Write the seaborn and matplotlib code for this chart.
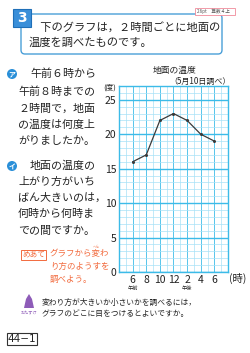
import matplotlib
matplotlib.use("Agg")
import matplotlib.pyplot as plt
from matplotlib.patches import FancyBboxPatch, Rectangle, Circle, Polygon
import seaborn as sns
import pandas as pd

# ---- data ----
hours = [6, 8, 10, 12, 14, 16, 18]
temps = [16, 17, 22, 23, 22, 20, 19]
x_tick_labels = ["6", "8", "10", "12", "2", "4", "6"]
y_ticks = [0, 5, 10, 15, 20, 25]

sns.set_style("white")
plt.rcParams['font.family'] = ['Noto Sans CJK JP', 'DejaVu Sans']

W, H = 250, 353
fig = plt.figure(figsize=(W / 100, H / 100), dpi=100)

# overlay in pixel coordinates
ov = fig.add_axes([0, 0, 1, 1], zorder=0)
ov.set_xlim(0, W)
ov.set_ylim(H, 0)
ov.axis("off")

GRID_MINOR = "#a8e2f7"
GRID_MAJOR = "#3cbbe8"
BLUE = "#2a8fd8"
ORANGE = "#f26a3d"
PURPLE = "#8e5cb8"
TXT = "#222222"

# ---- main chart ----
ax = fig.add_axes([119 / W, 1 - 272 / H, (228 - 119) / W, (272 - 86) / H], zorder=2)
ax.patch.set_alpha(0)
df = pd.DataFrame({"hour": hours, "temp": temps})
for v in range(4, 21):
    ax.axvline(v, color=GRID_MAJOR if v % 2 == 0 else GRID_MINOR, lw=0.6 if v % 2 == 0 else 0.5, zorder=0)
for v in range(0, 28):
    major = v % 5 == 0
    ax.axhline(v, color=GRID_MAJOR if major else GRID_MINOR, lw=1.0 if major else 0.5, zorder=0)
sns.lineplot(data=df, x="hour", y="temp", ax=ax, color="#3a3a3a", lw=0.9,
             marker="o", markersize=2.2, markeredgewidth=0, zorder=3)
ax.set_xlim(4, 20)
ax.set_ylim(0, 27)
ax.set_xticks(hours)
ax.set_xticklabels(x_tick_labels, fontsize=7.5, color=TXT)
ax.set_yticks(y_ticks)
ax.set_yticklabels([str(t) for t in y_ticks], fontsize=7.5, color=TXT)
ax.tick_params(length=0, pad=2)
ax.set_xlabel("")
ax.set_ylabel("")
for s in ax.spines.values():
    s.set_color(GRID_MAJOR)
    s.set_linewidth(1.0)

ov.text(229, 278, "(時)", fontsize=7.5, ha="left", va="center", color=TXT)
ov.text(133, 289, "午前", fontsize=3.8, ha="center", va="center", color=TXT)
ov.text(187, 289, "午後", fontsize=3.8, ha="center", va="center", color=TXT)
ov.text(110, 88, "(度)", fontsize=5.5, ha="center", va="center", color=TXT)
ov.text(175, 70, "地面の温度", fontsize=6.3, ha="center", va="center", color=TXT)
ov.text(200, 81, "（5月10日調べ）", fontsize=5.8, ha="center", va="center", color=TXT)

# ---- header ----
ov.add_patch(FancyBboxPatch((21, 14), 201, 40, boxstyle="round,pad=0,rounding_size=4",
                            fc="white", ec="#4a9fd8", lw=1.0))
ov.add_patch(Rectangle((13, 9), 18, 18, fc="#3a8fd9", ec="#1f6fb8", lw=0.8))
ov.text(22, 18.5, "3", fontsize=10, fontweight="bold", color="white", ha="center", va="center",
        family="DejaVu Sans")
ov.text(29, 27, "　下のグラフは，２時間ごとに地面の", fontsize=8.1, ha="left", va="center", color=TXT)
ov.text(29, 43, "温度を調べたものです。", fontsize=8.1, ha="left", va="center", color=TXT)
ov.add_patch(Rectangle((195, 8), 40, 7, fc="white", ec="#f08a9a", lw=0.6))
ov.text(197, 11.5, "26pt　算数４上", fontsize=3.3, ha="left", va="center", color="#555555")

# ---- questions ----
ov.add_patch(Circle((12, 74), 5, fc=BLUE, ec="none"))
ov.text(12, 74.3, "ア", fontsize=5, color="white", ha="center", va="center", fontweight="bold")
q1 = ["午前６時から", "午前８時までの", "２時間で，地面", "の温度は何度上", "がりましたか。"]
ys1 = [74, 92, 109, 125, 141]
for i, (t, y) in enumerate(zip(q1, ys1)):
    ov.text(30 if i == 0 else 18, y, t, fontsize=7.9, ha="left", va="center", color=TXT)

ov.add_patch(Circle((12, 166), 5, fc=BLUE, ec="none"))
ov.text(12, 166.3, "イ", fontsize=5, color="white", ha="center", va="center", fontweight="bold")
q2 = ["地面の温度の", "上がり方がいち", "ばん大きいのは，", "何時から何時ま", "での間ですか。"]
ys2 = [166, 182, 198, 214, 231]
for i, (t, y) in enumerate(zip(q2, ys2)):
    ov.text(30 if i == 0 else 18, y, t, fontsize=7.9, ha="left", va="center", color=TXT)

# ---- めあて ----
ov.add_patch(Rectangle((21, 250), 25, 10, fc="white", ec=ORANGE, lw=0.7))
ov.text(33.5, 255, "めあて", fontsize=5.5, color=ORANGE, ha="center", va="center")
for t, y in zip(["グラフから変わ", "り方のようすを", "調べよう。"], [254, 266, 279]):
    ov.text(50, y, t, fontsize=6.1, color=ORANGE, ha="left", va="center")
ov.text(96, 247, "へん", fontsize=2.5, color=ORANGE, ha="center", va="center")

# ---- おたすけ ----
ov.add_patch(Polygon([[24, 308], [26, 299], [29, 294], [32, 299], [34, 308]], closed=True,
                     fc=PURPLE, ec="none"))
ov.text(29, 313, "おたすけ", fontsize=3.0, color=PURPLE, ha="center", va="center")
ov.text(42, 303, "変わり方が大きいか小さいかを調べるには，", fontsize=5.6, color=TXT,
        ha="left", va="center")
ov.text(42, 314, "グラフのどこに目をつけるとよいですか。", fontsize=5.6, color=TXT,
        ha="left", va="center")

# ---- page number ----
ov.add_patch(Rectangle((7, 333), 30, 12, fc="white", ec="#333333", lw=0.8))
ov.text(22, 339, "44−1", fontsize=7.5, color=TXT, ha="center", va="center", family="DejaVu Sans")

fig.savefig("out.png", dpi=100)
